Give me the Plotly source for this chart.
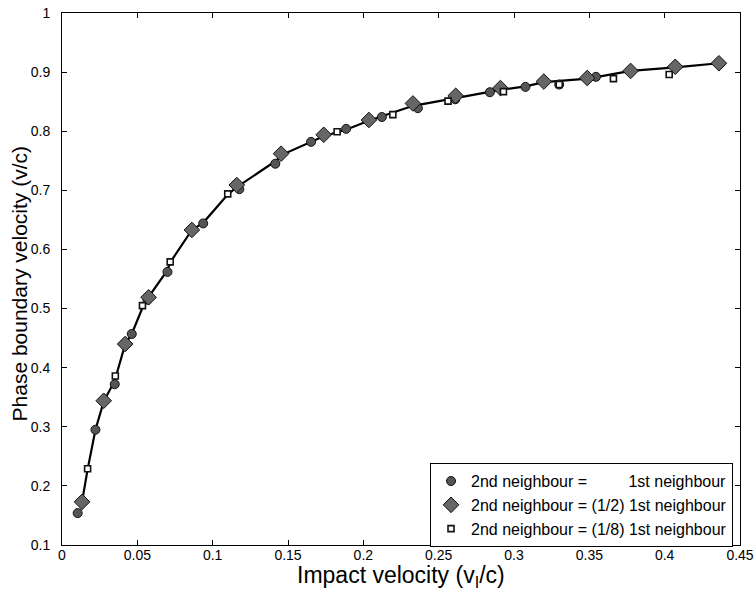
import plotly.graph_objects as go

# 2nd neighbour = 1st neighbour (circles)
circ_x = [0.0104, 0.0222, 0.035, 0.0463, 0.0567, 0.070, 0.0937, 0.1177, 0.1416, 0.1653, 0.1886,
          0.2123, 0.2362, 0.261, 0.284, 0.3076, 0.330, 0.3544]
circ_y = [0.154, 0.295, 0.372, 0.457, 0.515, 0.562, 0.644, 0.702, 0.745, 0.782, 0.804,
          0.824, 0.839, 0.854, 0.866, 0.875, 0.879, 0.892]

# 2nd neighbour = (1/2) 1st neighbour (diamonds)
dia_x = [0.0133, 0.0277, 0.0419, 0.0575, 0.0862, 0.116, 0.1454, 0.1737, 0.2037, 0.2329,
         0.2613, 0.291, 0.3198, 0.3486, 0.3774, 0.407, 0.436]
dia_y = [0.173, 0.344, 0.440, 0.519, 0.633, 0.709, 0.762, 0.794, 0.819, 0.847,
         0.860, 0.873, 0.884, 0.890, 0.902, 0.909, 0.915]

# 2nd neighbour = (1/8) 1st neighbour (squares)
sq_x = [0.017, 0.0354, 0.0534, 0.0718, 0.110, 0.1826, 0.2196, 0.2562, 0.293, 0.330, 0.366, 0.403]
sq_y = [0.229, 0.386, 0.505, 0.579, 0.694, 0.799, 0.828, 0.851, 0.867, 0.879, 0.889, 0.896]

# solid curve through the data
curve_x = [0.0133, 0.017, 0.0222, 0.0277, 0.035, 0.042, 0.0463, 0.054, 0.0567, 0.070, 0.0718,
           0.0862, 0.0937, 0.110, 0.117, 0.142, 0.146, 0.165, 0.174, 0.188, 0.204, 0.233,
           0.261, 0.291, 0.3076, 0.320, 0.349, 0.3774, 0.407, 0.436]
curve_y = [0.173, 0.228, 0.295, 0.343, 0.378, 0.440, 0.457, 0.505, 0.517, 0.565, 0.578,
           0.633, 0.645, 0.693, 0.707, 0.750, 0.760, 0.782, 0.792, 0.802, 0.818, 0.843,
           0.856, 0.870, 0.876, 0.883, 0.889, 0.902, 0.908, 0.915]

x_ticks = [0, 0.05, 0.1, 0.15, 0.2, 0.25, 0.3, 0.35, 0.4, 0.45]
x_ticktext = ["0", "0.05", "0.1", "0.15", "0.2", "0.25", "0.3", "0.35", "0.4", "0.45"]
y_ticks = [0.1, 0.2, 0.3, 0.4, 0.5, 0.6, 0.7, 0.8, 0.9, 1.0]
y_ticktext = ["0.1", "0.2", "0.3", "0.4", "0.5", "0.6", "0.7", "0.8", "0.9", "1"]

NB = "\u00a0"
labels = [
    "2nd neighbour =" + NB * 9 + "\u200a" + "1st neighbour",
    "2nd neighbour = (1/2) 1st neighbour",
    "2nd neighbour = (1/8) 1st neighbour",
]

font_family = "Liberation Sans, Arial, Helvetica, sans-serif"

fig = go.Figure()
fig.add_trace(go.Scatter(x=curve_x, y=curve_y, mode="lines",
                         line=dict(color="black", width=2.2), showlegend=False, hoverinfo="skip"))
fig.add_trace(go.Scatter(x=circ_x, y=circ_y, mode="markers", name=labels[0],
                         marker=dict(symbol="circle", size=9, color="#555555",
                                     line=dict(color="#111111", width=1))))
fig.add_trace(go.Scatter(x=dia_x, y=dia_y, mode="markers", name=labels[1],
                         marker=dict(symbol="diamond", size=12, color="#666666",
                                     line=dict(color="#111111", width=1))))
fig.add_trace(go.Scatter(x=sq_x, y=sq_y, mode="markers", name=labels[2],
                         marker=dict(symbol="square", size=6, color="white",
                                     line=dict(color="#111111", width=1.6))))

axis_common = dict(showline=True, linecolor="black", linewidth=1, mirror="ticks",
                   ticks="inside", ticklen=5, tickcolor="black", showgrid=False,
                   zeroline=False, automargin=False,
                   tickfont=dict(size=14, color="black", family=font_family))

fig.update_xaxes(range=[0, 0.45], tickvals=x_ticks, ticktext=x_ticktext,
                 ticklabelstandoff=-3, **axis_common)
fig.update_yaxes(range=[0.1, 1.0], tickvals=y_ticks, ticktext=y_ticktext,
                 ticklabelstandoff=8, **axis_common)

fig.add_annotation(text="Impact velocity (v<sub>I</sub>/c)", xref="paper", yref="paper",
                   x=0.5, y=-0.059, xanchor="center", yanchor="middle", showarrow=False,
                   font=dict(size=23, color="black", family=font_family))
fig.add_annotation(text="Phase boundary velocity (v/c)", xref="paper", yref="paper",
                   x=-0.062, y=0.4915, xanchor="center", yanchor="middle", textangle=-90,
                   showarrow=False, font=dict(size=21, color="black", family=font_family))

fig.update_layout(
    width=754, height=594,
    margin=dict(l=62, r=14, t=13, b=49),
    paper_bgcolor="white", plot_bgcolor="white",
    font=dict(family=font_family, color="black"),
    legend=dict(x=0.9897, y=-0.004, xanchor="right", yanchor="bottom",
                bgcolor="white", bordercolor="black", borderwidth=1,
                font=dict(size=16, color="black", family=font_family),
                itemsizing="trace", tracegroupgap=0),
)

fig.write_html("out.html", config={"displayModeBar": False},
               post_script="document.body.style.margin='0';")
